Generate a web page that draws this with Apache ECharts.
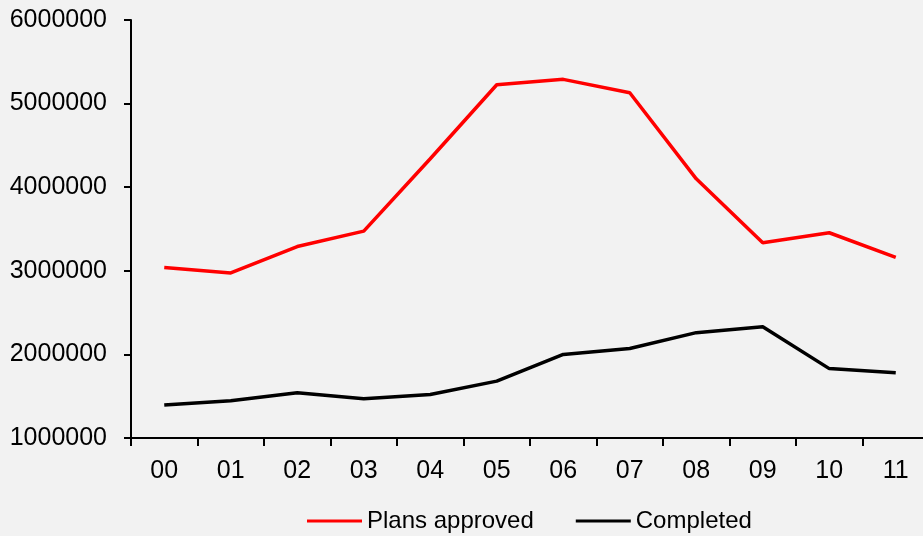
<!DOCTYPE html>
<html>
<head>
<meta charset="utf-8">
<script src="https://cdn.jsdelivr.net/npm/echarts@6/dist/echarts.min.js"></script>
<style>
html,body{margin:0;padding:0;background:#f2f2f2;overflow:hidden;}
#c{width:940px;height:536px;}
</style>
</head>
<body>
<div id="c"></div>
<script>
var categories = ['00','01','02','03','04','05','06','07','08','09','10','11'];
var plansApproved = [3040000, 2975000, 3290000, 3475000, 4340000, 5225000, 5290000, 5130000, 4100000, 3335000, 3455000, 3160000];
var completed = [1395000, 1445000, 1540000, 1470000, 1520000, 1680000, 2000000, 2070000, 2260000, 2330000, 1830000, 1780000];
var seriesNames = ['Plans approved', 'Completed'];

var chart = echarts.init(document.getElementById('c'), null, {renderer: 'canvas'});
var font = 'Liberation Sans, Arial, sans-serif';
chart.setOption({
  backgroundColor: '#f2f2f2',
  animation: false,
  grid: {left: 131, top: 20, width: 798, height: 418, containLabel: false},
  legend: {
    top: 504,
    left: 302,
    icon: 'rect',
    itemWidth: 55,
    itemHeight: 3,
    itemGap: 42,
    textStyle: {fontFamily: font, fontSize: 24, color: '#000'},
    data: seriesNames
  },
  xAxis: {
    type: 'category',
    data: categories,
    boundaryGap: true,
    axisLine: {lineStyle: {color: '#000', width: 2}},
    axisTick: {show: true, length: 8, alignWithLabel: false, lineStyle: {color: '#000', width: 2}},
    axisLabel: {fontFamily: font, fontSize: 25, color: '#000', margin: 21}
  },
  yAxis: {
    type: 'value',
    min: 1000000,
    max: 6000000,
    interval: 1000000,
    splitLine: {show: false},
    axisLine: {show: true, lineStyle: {color: '#000', width: 2}},
    axisTick: {show: true, length: 7, lineStyle: {color: '#000', width: 2}},
    axisLabel: {fontFamily: font, fontSize: 25, color: '#000', margin: 24, formatter: function (v) { return String(v); }}
  },
  series: [
    {name: seriesNames[0], type: 'line', data: plansApproved, symbol: 'none', itemStyle: {color: '#ff0000'}, lineStyle: {color: '#ff0000', width: 3.5}},
    {name: seriesNames[1], type: 'line', data: completed, symbol: 'none', itemStyle: {color: '#000000'}, lineStyle: {color: '#000000', width: 3.5}}
  ]
});
</script>
</body>
</html>
